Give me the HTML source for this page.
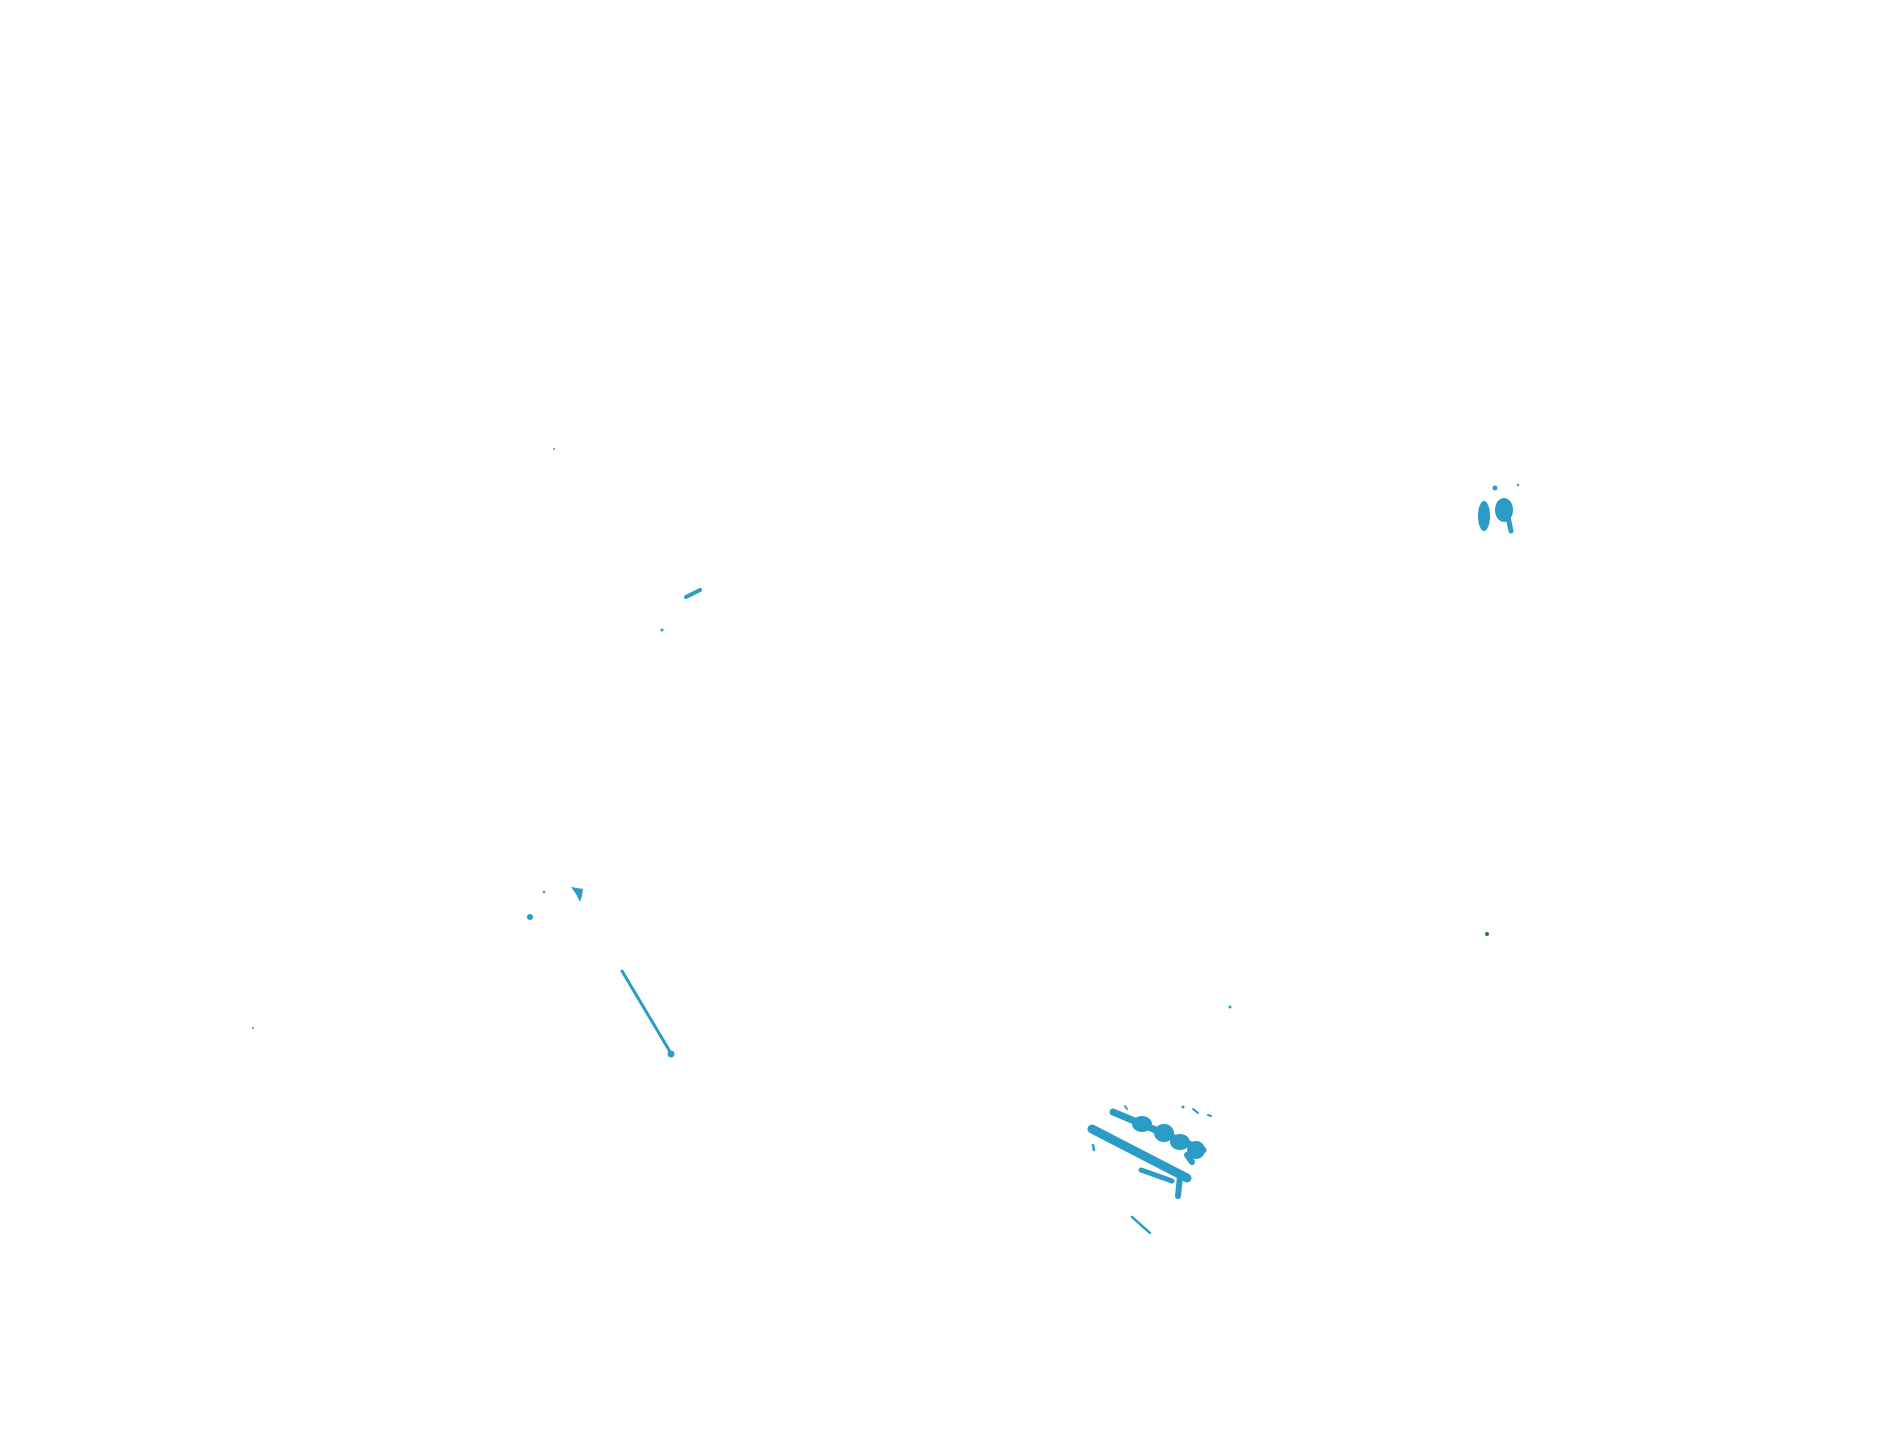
<!DOCTYPE html>
<html><head><style>html,body{margin:0;padding:0;background:#fff;width:1904px;height:1441px;overflow:hidden}</style></head>
<body>
<svg width="1904" height="1441" viewBox="0 0 1904 1441" xmlns="http://www.w3.org/2000/svg">
<g fill="#2a9cc6" stroke="#2a9cc6" stroke-linecap="round">
<line x1="1092" y1="1129" x2="1187" y2="1178" stroke-width="9"/>
<line x1="1113" y1="1112" x2="1203" y2="1150" stroke-width="7"/>
<ellipse cx="1142" cy="1124" rx="10" ry="8" stroke="none"/>
<ellipse cx="1164" cy="1133" rx="10" ry="9" stroke="none"/>
<ellipse cx="1180" cy="1142" rx="10" ry="8" stroke="none"/>
<ellipse cx="1196" cy="1150" rx="9" ry="9" stroke="none"/>
<line x1="1187" y1="1155" x2="1192" y2="1162" stroke-width="6"/>
<line x1="1180" y1="1176" x2="1178" y2="1196" stroke-width="6"/>
<line x1="1141" y1="1170" x2="1172" y2="1181" stroke-width="5"/>
<line x1="1132" y1="1217" x2="1150" y2="1233" stroke-width="2.5"/>
<line x1="1093" y1="1145" x2="1094" y2="1150" stroke-width="2.5"/>
<line x1="1125" y1="1106" x2="1127" y2="1109" stroke-width="2"/>
<line x1="1193" y1="1109" x2="1198" y2="1113" stroke-width="2"/>
<line x1="1208" y1="1115" x2="1211" y2="1116" stroke-width="2"/>
<circle cx="1183" cy="1107" r="1.5" stroke="none"/>
<ellipse cx="1484" cy="516" rx="6" ry="15" stroke="none"/>
<ellipse cx="1504" cy="510" rx="9" ry="12" stroke="none"/>
<line x1="1507" y1="512" x2="1511" y2="531" stroke-width="5"/>
<circle cx="1495" cy="488" r="2.5" stroke="none"/>
<circle cx="1518" cy="485" r="1.2" stroke="none"/>
<line x1="686" y1="597" x2="700" y2="590" stroke-width="4"/>
<circle cx="662" cy="630" r="1.5" stroke="none"/>
<circle cx="554" cy="449" r="1" stroke="none"/>
<circle cx="530" cy="917" r="3" stroke="none"/>
<path d="M571 887 L583 889 L582 896 L580 902 L576 894 Z" stroke="none"/>
<circle cx="544" cy="892" r="1.2" stroke="none"/>
<circle cx="253" cy="1028" r="1" stroke="none"/>
<circle cx="1230" cy="1007" r="1.5" stroke="none"/>
<line x1="622" y1="971" x2="672" y2="1055" stroke-width="3"/>
<circle cx="671" cy="1054" r="3.5" stroke="none"/>
</g>
<circle cx="1487" cy="934" r="2" fill="#1a8a1a"/>
</svg>
</body></html>
